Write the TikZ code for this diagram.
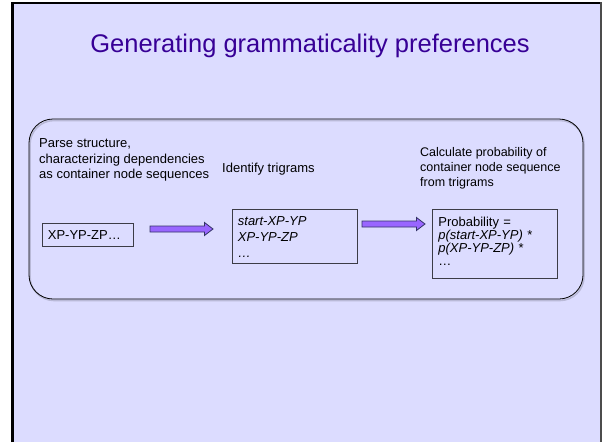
\documentclass[tikz,border=0pt]{standalone}
\usepackage{fontspec}
\setmainfont{Liberation Sans}
\usetikzlibrary{calc}
\definecolor{slidebg}{RGB}{220,220,255}
\definecolor{titlecol}{RGB}{55,0,150}
\definecolor{arrowfill}{RGB}{153,102,255}
\definecolor{arrowline}{RGB}{51,51,102}
\definecolor{boxline}{RGB}{60,60,70}
\definecolor{shadowcol}{RGB}{185,185,215}
\begin{document}
\begin{tikzpicture}[x=1pt,y=-1pt,
  titlestyle/.style={inner sep=0pt, text=titlecol, font=\fontsize{25.5}{30}\selectfont},
  steptext/.style={inner sep=0pt, align=left, font=\fontsize{13}{15.5}\selectfont},
  seqbox/.style={draw=boxline, line width=0.8pt, inner xsep=5.5pt, inner ysep=0pt, align=left, font=\fontsize{13}{16}\selectfont},
  fatarrow/.style={draw=arrowline, fill=arrowfill, line width=0.8pt, line join=miter,
    to path={let \p1=(\tikztostart), \p2=(\tikztotarget) in
      (\x1,\y1+3pt) -- (\x2-8.5pt,\y1+3pt) -- (\x2-8.5pt,\y1+6.5pt) -- (\x2,\y1) --
      (\x2-8.5pt,\y1-6.5pt) -- (\x2-8.5pt,\y1-3pt) -- (\x1,\y1-3pt) -- cycle}}
]
\useasboundingbox (0,0) rectangle (602,442);
\fill[white] (0,0) rectangle (602,442);
\fill[slidebg] (12,3) rectangle (601,442);
\draw[black, line width=2.6pt] (12.3,442) -- (12.3,3.0) -- (600,3.0);
\draw[black!70, line width=1.5pt] (600.8,2) -- (600.8,442);

% title
\node[titlestyle, anchor=base] (title) at (310,52.7) {Generating grammaticality preferences};

% big rounded frame with shadow
\draw[shadowcol, line width=1.6pt, rounded corners=24pt] (30,120.5) rectangle (584,300.5);
\draw[black, line width=0.8pt, rounded corners=24pt] (29,119) rectangle (583,299);

% step headings
\node[steptext, anchor=north west] (h1) at (39,138.4) {Parse structure,\\characterizing dependencies\\as container node sequences};
\node[steptext, anchor=base west] (h2) at (222,172.5) {Identify trigrams};
\node[steptext, anchor=north west, font=\fontsize{12.5}{15}\selectfont] (h3) at (420,147.5) {Calculate probability of\\container node sequence\\from trigrams};

% boxes
\node[seqbox, anchor=north west, minimum width=91pt, minimum height=23pt, text width=80pt] (b1) at (42,223) {XP-YP-ZP…};
\node[seqbox, anchor=north west, minimum width=125pt, minimum height=54pt, text width=114pt] (b2) at (232,209) {\rule{0pt}{11pt}\itshape start-XP-YP\\\itshape XP-YP-ZP\\…};
\node[seqbox, anchor=north west, minimum width=125pt, minimum height=69pt, text width=113pt, inner xsep=6pt, font=\fontsize{13}{13}\selectfont] (b3) at (432,209) {\rule{0pt}{11pt}Probability =\\\textit{p(start-XP-YP)} *\\\textit{p(XP-YP-ZP)} *\\…\rule[-7.8pt]{0pt}{7.8pt}};

% arrows
\coordinate (a1s) at (150,229);
\coordinate (a1e) at (213,229);
\coordinate (a2s) at (362,224);
\coordinate (a2e) at (425,224);
\draw[fatarrow] (a1s) to (a1e);
\draw[fatarrow] (a2s) to (a2e);
\end{tikzpicture}
\end{document}
